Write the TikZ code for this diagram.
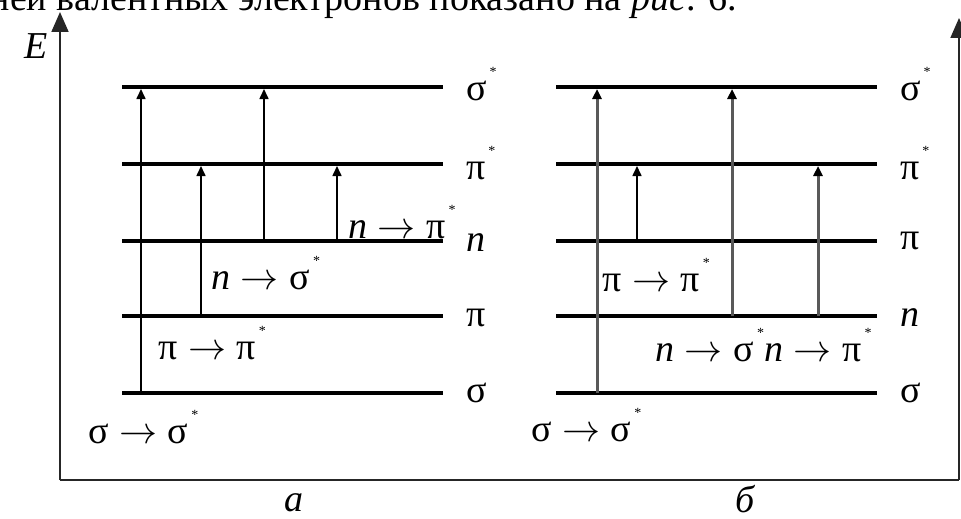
\RequirePackage{fix-cm}
\documentclass[tikz,border=0pt]{standalone}
\usepackage{fontspec}
\setmainfont{Liberation Serif}
\usetikzlibrary{arrows.meta}
\newcommand{\stx}{\hspace{0.08em}\raisebox{0.62em}{\fontsize{14}{14}\selectfont *}}
\newcommand{\arr}{\hspace{0.28em}\ensuremath{\rightarrow}\hspace{0.28em}}
\begin{document}
\begin{tikzpicture}[x=1pt,y=-1pt,
  level/.style={line width=4pt, black},
  trA/.style={line width=1.6pt, black, -{Triangle[length=10pt,width=9pt]}},
  trB/.style={line width=3pt, draw=black!65, -{Triangle[length=10pt,width=9pt,color=black]}},
  lab/.style={font=\fontsize{38}{40}\selectfont, inner sep=0pt},
  axis/.style={line width=1.8pt, black!85},
  axtip/.style={-{Triangle[length=20pt,width=17pt]}}
]
\useasboundingbox (0,0) rectangle (961,519);

% top text (cut off)
\node[lab, anchor=base east] (toptext) at (737,11) {уровней валентных электронов показано на \textit{рис}. 6.};

% axes
\coordinate (o) at (60,480);
\coordinate (ytop) at (60,12);
\coordinate (br) at (959,480);
\coordinate (rtop) at (959,18);
\draw[axis, axtip] (o) -- (ytop);
\draw[axis] (o) -- (br);
\draw[axis, axtip] (br) -- (rtop);
\node[lab, font=\fontsize{38}{40}\selectfont\itshape] (E) at (36,46) {E};
\node[lab, font=\fontsize{38}{40}\selectfont\itshape] (capa) at (294,503) {а};
\node[lab, font=\fontsize{38}{40}\selectfont\itshape] (capb) at (745,499) {б};

% levels
\foreach \n/\y in {s5/87, s4/164, s3/241, s2/316, s1/393}{
  \coordinate (aL\n) at (122,\y);
  \coordinate (aR\n) at (443,\y);
  \draw[level] (aL\n) -- (aR\n);
  \coordinate (bL\n) at (556,\y);
  \coordinate (bR\n) at (877,\y);
  \draw[level] (bL\n) -- (bR\n);
}

% level labels a
\node[lab, anchor=west] (la5) at (466,84) {σ\stx};
\node[lab, anchor=west] (la4) at (466,163) {π\stx};
\node[lab, anchor=west] (la3) at (466,243) {\textit{n}};
\node[lab, anchor=west] (la2) at (466,318) {π};
\node[lab, anchor=west] (la1) at (466,393) {σ};
% level labels b
\node[lab, anchor=west] (lb5) at (900,84) {σ\stx};
\node[lab, anchor=west] (lb4) at (900,163) {π\stx};
\node[lab, anchor=west] (lb3) at (900,241) {π};
\node[lab, anchor=west] (lb2) at (900,318) {\textit{n}};
\node[lab, anchor=west] (lb1) at (900,393) {σ};

% transitions a
\coordinate (a1s) at (141,393); \coordinate (a1e) at (141,89);
\coordinate (a2s) at (201,316); \coordinate (a2e) at (201,166);
\coordinate (a3s) at (264,241); \coordinate (a3e) at (264,89);
\coordinate (a4s) at (337,241); \coordinate (a4e) at (337,166);
\draw[trA] (a1s) -- (a1e);
\draw[trA] (a2s) -- (a2e);
\draw[trA] (a3s) -- (a3e);
\draw[trA] (a4s) -- (a4e);

% transitions b
\coordinate (b1s) at (597,393); \coordinate (b1e) at (597,89);
\coordinate (b2s) at (637,241); \coordinate (b2e) at (637,166);
\coordinate (b3s) at (732,316); \coordinate (b3e) at (732,89);
\coordinate (b4s) at (818,316); \coordinate (b4e) at (818,166);
\draw[trB] (b1s) -- (b1e);
\draw[trA] (b2s) -- (b2e);
\draw[trB] (b3s) -- (b3e);
\draw[trB] (b4s) -- (b4e);

% transition labels a
\node[lab, anchor=west] (ta1) at (88,427) {σ\arr σ\stx};
\node[lab, anchor=west] (ta2) at (158,343) {π\arr π\stx};
\node[lab, anchor=west] (ta3) at (211,273) {\textit{n}\arr σ\stx};
\node[lab, anchor=west] (ta4) at (348,222) {\textit{n}\arr π\stx};
% transition labels b
\node[lab, anchor=west] (tb1) at (531,425) {σ\arr σ\stx};
\node[lab, anchor=west] (tb2) at (602,275) {π\arr π\stx};
\node[lab, anchor=west] (tb3) at (655,345) {\textit{n}\arr σ\stx\textit{n}\arr π\stx};
\end{tikzpicture}
\end{document}
